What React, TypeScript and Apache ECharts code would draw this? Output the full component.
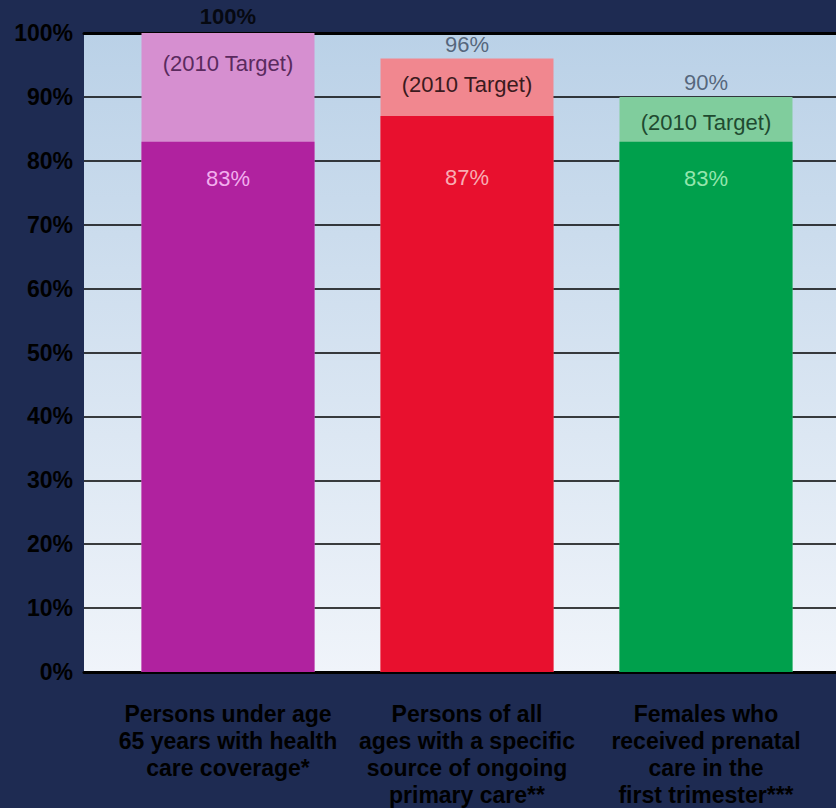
import React, { useEffect, useRef } from "react";
import * as echarts from "echarts";

const categories = [
  "Persons under age\n65 years with health\ncare coverage*",
  "Persons of all\nages with a specific\nsource of ongoing\nprimary care**",
  "Females who\nreceived prenatal\ncare in the\nfirst trimester***",
];
const currentValues = [83, 87, 83];
const targetValues = [100, 96, 90];
const yTicks = [0, 10, 20, 30, 40, 50, 60, 70, 80, 90, 100];

const baseColors = ["#B0229F", "#E8102E", "#00A04C"];
const topColors = ["#D68FD0", "#F1878F", "#80CD9D"];
const innerLabelColors = ["#F2AEEE", "#F8ACB3", "#93E6AC"];
const targetLabelColors = ["#5A2A5E", "#3A1A1E", "#1F4A30"];
const aboveLabelColors = ["#000000", "#3A4A60", "#3A4A60"];

const FONT = "Liberation Sans, Arial, sans-serif";

export default function App() {
  const ref = useRef<HTMLDivElement>(null);
  useEffect(() => {
    if (!ref.current) return;
    const chart = echarts.init(ref.current, null, { renderer: "svg" });
    const xMin = -0.6025;
    const xMax = 2.544;
    chart.setOption({
      animation: false,
      backgroundColor: "#1E2B52",
      textStyle: { fontFamily: FONT },
      grid: {
        left: 84,
        top: 33,
        bottom: 134,
        right: -2,
        show: true,
        borderWidth: 0,
        backgroundColor: new echarts.graphic.LinearGradient(0, 0, 0, 1, [
          { offset: 0, color: "#BAD1E7" },
          { offset: 1, color: "#F0F4FA" },
        ]),
      },
      xAxis: [
        {
          type: "value",
          min: xMin,
          max: xMax,
          splitLine: { show: false },
          axisTick: { show: false },
          axisLine: { show: true, onZero: false, lineStyle: { color: "#000", width: 3 } },
          axisLabel: {
            customValues: [0, 1, 2],
            formatter: (v: number) => categories[Math.round(v)] ?? "",
            color: "#000",
            fontWeight: "bold",
            fontSize: 23,
            lineHeight: 27,
            margin: 28,
            fontFamily: FONT,
          },
        },
        {
          type: "value",
          position: "top",
          min: xMin,
          max: xMax,
          splitLine: { show: false },
          axisTick: { show: false },
          axisLabel: { show: false },
          axisLine: { show: true, onZero: false, lineStyle: { color: "#000", width: 3 } },
        },
      ],
      yAxis: {
        type: "value",
        min: yTicks[0],
        max: yTicks[yTicks.length - 1],
        interval: 10,
        axisLine: { show: true, lineStyle: { color: "#000", width: 2 } },
        axisTick: { show: false },
        splitLine: { show: true, lineStyle: { color: "#000", width: 1.5 } },
        axisLabel: {
          formatter: "{value}%",
          color: "#000",
          fontWeight: "bold",
          fontSize: 23,
          margin: 11,
          fontFamily: FONT,
        },
      },
      series: [
        {
          type: "bar",
          barWidth: 173,
          barGap: "-100%",
          data: targetValues.map((t, i) => ({
            value: [i, t],
            itemStyle: { color: topColors[i] },
            label: {
              show: true,
              position: "insideTop",
              distance: i === 0 ? 19 : 15,
              formatter: "(2010 Target)",
              color: targetLabelColors[i],
              fontSize: 22,
              fontFamily: FONT,
            },
          })),
        },
        {
          type: "bar",
          barWidth: 173,
          barGap: "-100%",
          data: currentValues.map((v, i) => ({
            value: [i, v],
            itemStyle: { color: baseColors[i] },
            label: {
              show: true,
              position: "insideTop",
              distance: i === 1 ? 50 : 26,
              formatter: `${v}%`,
              color: innerLabelColors[i],
              fontSize: 22,
              fontFamily: FONT,
            },
          })),
        },
        {
          type: "scatter",
          symbolSize: 1,
          itemStyle: { color: "rgba(0,0,0,0)" },
          data: targetValues.map((t, i) => ({
            value: [i, t],
            label: {
              show: true,
              position: "top",
              distance: i === 0 ? 5 : 3,
              formatter: `${t}%`,
              color: aboveLabelColors[i],
              fontSize: 22,
              fontWeight: i === 0 ? "bold" : "normal",
              fontFamily: FONT,
            },
          })),
          z: 5,
        },
      ],
    });
    return () => chart.dispose();
  }, []);
  return (
    <div
      ref={ref}
      style={{ position: "fixed", left: 0, top: 0, width: 836, height: 808 }}
    />
  );
}
